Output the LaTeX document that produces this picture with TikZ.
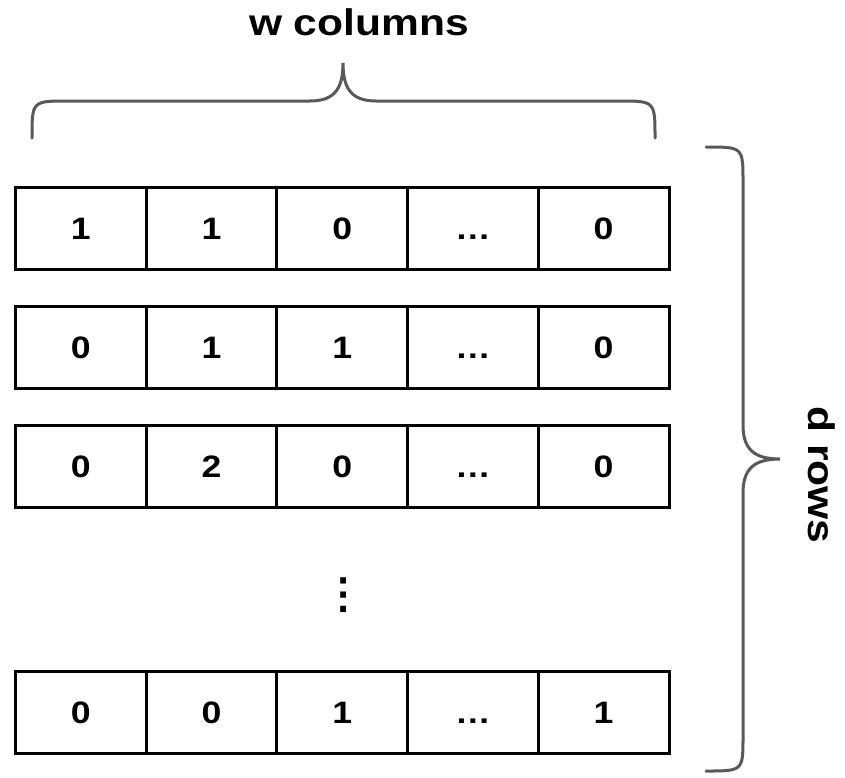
\documentclass[tikz,border=0pt]{standalone}
\usepackage{fontspec}
\setmainfont[FakeStretch=1.15]{Liberation Sans}
\usetikzlibrary{positioning}

\begin{document}
\begin{tikzpicture}[x=1pt, y=-1pt,
        celda/.style={draw, line width=3pt, minimum width=130.7pt, minimum height=82pt, inner sep=0pt,
            text height=22pt, text depth=0pt, font=\fontsize{31}{36}\selectfont\bfseries},
        llave/.style={draw=black!65, line width=3pt, line cap=round},
        etiqueta/.style={font=\fontsize{37}{42}\selectfont\bfseries}]
        % Marco de la imagen
        \useasboundingbox (0,0) rectangle (845,777);

        % Filas de la tabla (fila/centro/valores)
        \foreach \f/\y/\vals in {1/228.5/{1,1,0,…,0}, 2/347.5/{0,1,1,…,0}, 3/466.5/{0,2,0,…,0}, 4/712/{0,0,1,…,1}} {
            \foreach \v [count=\k] in \vals {
                \node[celda] (c-\f-\k) at ({15.5+65.35*(2*\k-1)},\y) {\v};
            }
        }

        % Puntos verticales entre filas
        \node[font=\fontsize{39}{44}\selectfont\bfseries, rotate=90, anchor=base] (puntos) at (346,595) {…};

        % Llave superior y su etiqueta
        \draw[llave] (32,138) .. controls (32,101) .. (68,101) -- (310,101) .. controls (335,101) and (343,88) .. (343,63)
            .. controls (343,88) and (351,101) .. (376,101) -- (619,101) .. controls (655,101) .. (655,138);
        \node[etiqueta, anchor=base] (columnas) at (359,35) {w columns};

        % Llave derecha y su etiqueta
        \draw[llave] (706,147) .. controls (743,147) .. (743,182) -- (743,425) .. controls (743,450) and (755,459) .. (780,459)
            .. controls (755,459) and (743,468) .. (743,493) -- (743,736) .. controls (743,771) .. (706,771);
        \node[etiqueta, rotate=-90] (filas) at (822,475) {d rows};
\end{tikzpicture}
\end{document}
